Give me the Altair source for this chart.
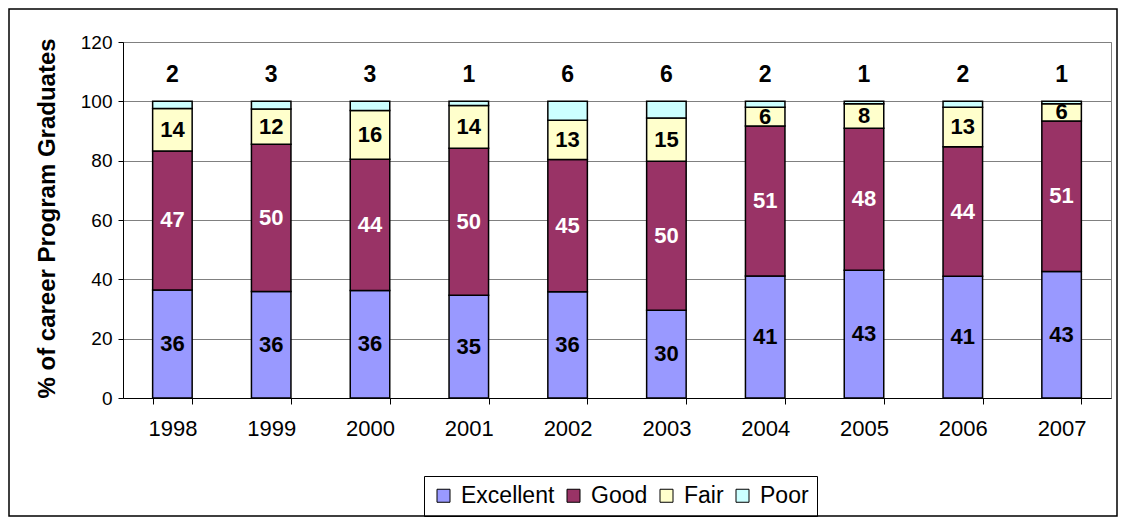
import altair as alt
import pandas as pd

years = ["1998", "1999", "2000", "2001", "2002", "2003", "2004", "2005", "2006", "2007"]
categories = ["Excellent", "Good", "Fair", "Poor"]
excellent = [36.4, 35.9, 36.2, 34.6, 35.8, 29.6, 41.1, 43.1, 41.0, 42.6]
good = [46.9, 49.6, 44.3, 49.6, 44.6, 50.2, 50.6, 47.8, 43.7, 50.8]
fair = [14.3, 11.9, 16.4, 14.4, 13.2, 14.6, 6.3, 8.3, 13.3, 5.8]
poor = [2.4, 2.6, 3.1, 1.4, 6.4, 5.6, 2.0, 0.8, 2.0, 0.8]
colors = ["#9999FF", "#993366", "#FFFFCC", "#CCFFFF"]
y_ticks = [0, 20, 40, 60, 80, 100, 120]

series = {"Excellent": excellent, "Good": good, "Fair": fair, "Poor": poor}
rows = []
for ci, cat in enumerate(categories):
    for yi, yr in enumerate(years):
        rows.append({"year": yr, "cat": cat, "order": ci, "value": series[cat][yi]})
df = pd.DataFrame(rows)

FONT = "Liberation Sans"

base = alt.Chart(df).transform_stack(
    stack="value", groupby=["year"], as_=["y0", "y1"], sort=[alt.SortField("order")]
).transform_calculate(mid="(datum.y0 + datum.y1) / 2")

xenc = alt.X("year:N", sort=years, title=None,
             scale=alt.Scale(paddingInner=0.6, paddingOuter=0.3),
             axis=alt.Axis(labelAngle=0, labelFontSize=22, labelFont=FONT, labelColor="black",
                           tickBand="extent", tickSize=6, tickColor="black", domainColor="black",
                           labelPadding=14, grid=False))

yscale = alt.Scale(domain=[0, 120], nice=False)

bars = base.mark_bar(stroke="black", strokeWidth=1.5).encode(
    x=xenc,
    y=alt.Y("y0:Q", scale=yscale,
            title="% of career Program Graduates",
            axis=alt.Axis(values=y_ticks, labelFontSize=19, labelFont=FONT, labelColor="black",
                          tickSize=5, tickColor="black", domainColor="black", labelPadding=6,
                          gridColor="#808080", gridWidth=1, titleFont=FONT, titleFontSize=24,
                          titleFontWeight="bold", titleColor="black", titlePadding=21,
                          titleAnchor="start")),
    y2="y1:Q",
    color=alt.Color("cat:N", scale=alt.Scale(domain=categories, range=colors),
                    legend=alt.Legend(title=None, orient="none", legendX=301, legendY=434,
                                      direction="horizontal", columns=4, columnPadding=7,
                                      symbolType="square", symbolSize=169,
                                      symbolStrokeColor="black", symbolStrokeWidth=1,
                                      labelFontSize=23, labelFont=FONT, labelColor="black",
                                      labelOffset=6, strokeColor="black", padding=8)),
    order=alt.Order("order:Q"),
)

inner_labels = base.transform_filter("datum.cat != 'Poor'").mark_text(
    font=FONT, fontSize=22, fontWeight="bold", baseline="middle"
).encode(
    x=alt.X("year:N", sort=years),
    y=alt.Y("mid:Q", scale=yscale),
    text=alt.Text("value:Q", format=".0f"),
    color=alt.condition("datum.cat == 'Good'", alt.value("white"), alt.value("black")),
)

poor_labels = base.transform_filter("datum.cat == 'Poor'").mark_text(
    font=FONT, fontSize=23, fontWeight="bold", baseline="middle", color="black"
).encode(
    x=alt.X("year:N", sort=years),
    y=alt.datum(109),
    text=alt.Text("value:Q", format=".0f"),
)

frame = alt.Chart(pd.DataFrame({"a": [0]})).mark_rect(
    fillOpacity=0, stroke="black", strokeWidth=1.5
).encode(x=alt.value(-114), x2=alt.value(994), y=alt.value(-33), y2=alt.value(474))

chart = alt.layer(bars, inner_labels, poor_labels, frame).properties(
    width=988, height=356,
    autosize=alt.AutoSizeParams(type="none"),
    padding={"left": 115, "top": 34, "right": 7, "bottom": 119},
    background="white",
).configure_view(stroke="#808080", strokeWidth=1)

chart.save("out.html", embed_options={"renderer": "svg", "actions": False})
